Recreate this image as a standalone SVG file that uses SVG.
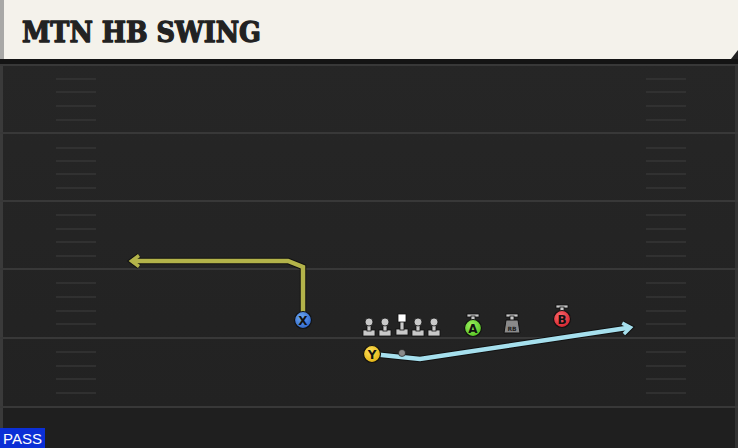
<svg xmlns="http://www.w3.org/2000/svg" width="738" height="448" viewBox="0 0 738 448">
<defs>
<style>
.yard{stroke:#383838;stroke-width:2}
.hash{stroke:#363636;stroke-width:1.6}
.lbl{font-family:"DejaVu Sans","Liberation Sans",sans-serif;font-weight:bold;text-anchor:middle}
.ol{fill:#c9c9c9;stroke:#111;stroke-width:0.8}
</style>
<linearGradient id="fieldg" x1="0" y1="0" x2="0" y2="1">
<stop offset="0" stop-color="#262626"/>
<stop offset="1" stop-color="#222"/>
</linearGradient>
<radialGradient id="gx" cx="0.4" cy="0.35" r="0.7"><stop offset="0" stop-color="#6fa8f0"/><stop offset="1" stop-color="#2a62c8"/></radialGradient>
<radialGradient id="gy" cx="0.4" cy="0.35" r="0.7"><stop offset="0" stop-color="#ffe05a"/><stop offset="1" stop-color="#e0b010"/></radialGradient>
<radialGradient id="ga" cx="0.4" cy="0.35" r="0.7"><stop offset="0" stop-color="#9cf060"/><stop offset="1" stop-color="#52c020"/></radialGradient>
<radialGradient id="gb" cx="0.4" cy="0.35" r="0.7"><stop offset="0" stop-color="#ff6a70"/><stop offset="1" stop-color="#d0202a"/></radialGradient>
<marker id="arrYo" viewBox="0 0 16 16" refX="10" refY="8" markerWidth="16" markerHeight="16" orient="auto" markerUnits="userSpaceOnUse">
<path d="M3,2.5 L10.5,8 L3,13.5" fill="none" stroke="#111" stroke-width="5.5" stroke-linejoin="miter"/>
</marker>
<marker id="arrY" viewBox="0 0 16 16" refX="10" refY="8" markerWidth="16" markerHeight="16" orient="auto" markerUnits="userSpaceOnUse">
<path d="M3,2.5 L10.5,8 L3,13.5" fill="none" stroke="#b3b34a" stroke-width="3.5" stroke-linejoin="miter"/>
</marker>
<marker id="arrCo" viewBox="0 0 16 16" refX="10" refY="8" markerWidth="16" markerHeight="16" orient="auto" markerUnits="userSpaceOnUse">
<path d="M3,2.5 L10.5,8 L3,13.5" fill="none" stroke="#111" stroke-width="5.5" stroke-linejoin="miter"/>
</marker>
<marker id="arrC" viewBox="0 0 16 16" refX="10" refY="8" markerWidth="16" markerHeight="16" orient="auto" markerUnits="userSpaceOnUse">
<path d="M3,2.5 L10.5,8 L3,13.5" fill="none" stroke="#a6e0ee" stroke-width="3.5" stroke-linejoin="miter"/>
</marker>
</defs>

<rect x="0" y="0" width="738" height="448" fill="#222"/>
<rect x="0" y="60" width="738" height="350" fill="url(#fieldg)"/>
<rect x="0" y="408" width="738" height="40" fill="#1f1f1f"/>
<rect x="0" y="60" width="3" height="388" fill="#3a3a3a"/>
<rect x="735" y="60" width="3" height="388" fill="#333"/>

<!-- header -->
<g id="header">
<polygon points="0,0 738,0 738,50 731,59 0,59" fill="#f4f2eb"/>
<rect x="0" y="0" width="4" height="59" fill="#a8a8a6"/>
<rect x="0" y="59" width="738" height="5" fill="#141414"/>
<text x="22" y="42" font-family="'DejaVu Serif','Liberation Serif',serif" font-weight="900" font-size="27" textLength="239" lengthAdjust="spacingAndGlyphs" fill="#222" stroke="#222" stroke-width="1.3" stroke-linejoin="round">MTN HB SWING</text>
</g>

<!-- field lines -->
<g id="field">
<line class="yard" x1="0" y1="65" x2="738" y2="65"/>
<line class="yard" x1="0" y1="133" x2="738" y2="133"/>
<line class="yard" x1="0" y1="201" x2="738" y2="201"/>
<line class="yard" x1="0" y1="269" x2="738" y2="269"/>
<line class="yard" x1="0" y1="338" x2="738" y2="338"/>
<line class="yard" x1="0" y1="407" x2="738" y2="407"/>
<g id="hashL">
<line class="hash" x1="56" y1="79" x2="96" y2="79"/><line class="hash" x1="56" y1="92" x2="96" y2="92"/><line class="hash" x1="56" y1="106" x2="96" y2="106"/><line class="hash" x1="56" y1="120" x2="96" y2="120"/>
<line class="hash" x1="56" y1="148" x2="96" y2="148"/><line class="hash" x1="56" y1="161" x2="96" y2="161"/><line class="hash" x1="56" y1="174" x2="96" y2="174"/><line class="hash" x1="56" y1="188" x2="96" y2="188"/>
<line class="hash" x1="56" y1="215" x2="96" y2="215"/><line class="hash" x1="56" y1="229" x2="96" y2="229"/><line class="hash" x1="56" y1="242" x2="96" y2="242"/><line class="hash" x1="56" y1="256" x2="96" y2="256"/>
<line class="hash" x1="56" y1="283" x2="96" y2="283"/><line class="hash" x1="56" y1="297" x2="96" y2="297"/><line class="hash" x1="56" y1="311" x2="96" y2="311"/><line class="hash" x1="56" y1="324" x2="96" y2="324"/>
<line class="hash" x1="56" y1="352" x2="96" y2="352"/><line class="hash" x1="56" y1="366" x2="96" y2="366"/><line class="hash" x1="56" y1="379" x2="96" y2="379"/><line class="hash" x1="56" y1="393" x2="96" y2="393"/>
</g>
<g id="hashR">
<line class="hash" x1="646" y1="79" x2="686" y2="79"/><line class="hash" x1="646" y1="92" x2="686" y2="92"/><line class="hash" x1="646" y1="106" x2="686" y2="106"/><line class="hash" x1="646" y1="120" x2="686" y2="120"/>
<line class="hash" x1="646" y1="148" x2="686" y2="148"/><line class="hash" x1="646" y1="161" x2="686" y2="161"/><line class="hash" x1="646" y1="174" x2="686" y2="174"/><line class="hash" x1="646" y1="188" x2="686" y2="188"/>
<line class="hash" x1="646" y1="215" x2="686" y2="215"/><line class="hash" x1="646" y1="229" x2="686" y2="229"/><line class="hash" x1="646" y1="242" x2="686" y2="242"/><line class="hash" x1="646" y1="256" x2="686" y2="256"/>
<line class="hash" x1="646" y1="283" x2="686" y2="283"/><line class="hash" x1="646" y1="297" x2="686" y2="297"/><line class="hash" x1="646" y1="311" x2="686" y2="311"/><line class="hash" x1="646" y1="324" x2="686" y2="324"/>
<line class="hash" x1="646" y1="352" x2="686" y2="352"/><line class="hash" x1="646" y1="366" x2="686" y2="366"/><line class="hash" x1="646" y1="379" x2="686" y2="379"/><line class="hash" x1="646" y1="393" x2="686" y2="393"/>
</g>
</g>

<!-- connectors -->
<g id="routes" fill="none" stroke-linejoin="miter">
<path d="M303,320 L303,267 L288,261 L132,261" stroke="#111" stroke-width="6.5" marker-end="url(#arrYo)"/>
<path d="M303,320 L303,267 L288,261 L132,261" stroke="#b3b34a" stroke-width="4.5" marker-end="url(#arrY)"/>
<path d="M372,354 L420,359 L630,327.5" stroke="#111" stroke-width="6.5" marker-end="url(#arrCo)"/>
<path d="M372,354 L420,359 L630,327.5" stroke="#a6e0ee" stroke-width="4.5" marker-end="url(#arrC)"/>
</g>

<!-- players -->
<g id="X">
<circle cx="303" cy="320" r="8.5" fill="url(#gx)" stroke="#111" stroke-width="1.2"/>
<text class="lbl" x="303" y="324.5" font-size="12" fill="#111">X</text>
</g>
<g id="LT"><rect class="ol" x="363" y="330" width="12" height="6"/><rect class="ol" x="367" y="323" width="4" height="8"/><circle class="ol" cx="369" cy="322" r="4"/></g>
<g id="LG"><rect class="ol" x="379" y="330" width="12" height="6"/><rect class="ol" x="383" y="323" width="4" height="8"/><circle class="ol" cx="385" cy="322" r="4"/></g>
<g id="C"><rect class="ol" x="396" y="329" width="12" height="6"/><rect class="ol" x="400" y="321" width="4" height="9"/><rect x="398" y="314" width="8" height="8" fill="#fff" stroke="#111" stroke-width="0.8"/></g>
<g id="RG"><rect class="ol" x="412" y="330" width="12" height="6"/><rect class="ol" x="416" y="323" width="4" height="8"/><circle class="ol" cx="418" cy="322" r="4"/></g>
<g id="RT"><rect class="ol" x="428" y="330" width="12" height="6"/><rect class="ol" x="432" y="323" width="4" height="8"/><circle class="ol" cx="434" cy="322" r="4"/></g>
<g id="QB"><circle cx="402" cy="353" r="3.5" fill="#8a8a8a" stroke="#111" stroke-width="0.6"/></g>
<g id="Y">
<circle cx="372" cy="354" r="8.5" fill="url(#gy)" stroke="#111" stroke-width="1.2"/>
<text class="lbl" x="372" y="358.5" font-size="12" fill="#111">Y</text>
</g>
<g id="A">
<rect class="ol" x="467" y="314" width="12" height="3"/><rect class="ol" x="471" y="316" width="4" height="5"/>
<circle cx="473" cy="328" r="8.5" fill="url(#ga)" stroke="#111" stroke-width="1.2"/>
<text class="lbl" x="473" y="332.5" font-size="12" fill="#111">A</text>
</g>
<g id="RB">
<rect class="ol" x="506" y="314" width="12" height="3"/><rect class="ol" x="510" y="316" width="4" height="5"/>
<path d="M506,320 L518,320 L520,333 L504,333 Z" fill="#8a8a8a" stroke="#111" stroke-width="1"/>
<text class="lbl" x="512" y="331" font-size="6" fill="#222">RB</text>
</g>
<g id="B">
<rect class="ol" x="556" y="305" width="12" height="3"/><rect class="ol" x="560" y="307" width="4" height="5"/>
<circle cx="562" cy="319" r="8.5" fill="url(#gb)" stroke="#111" stroke-width="1.2"/>
<text class="lbl" x="562" y="323.5" font-size="12" fill="#111">B</text>
</g>

<g id="pass">
<rect x="0" y="428" width="45" height="20" fill="#0b2fd6"/>
<text x="3" y="444" font-family="'Liberation Sans',Arial,sans-serif" font-size="15.5" textLength="39" lengthAdjust="spacingAndGlyphs" fill="#fff">PASS</text>
</g>
</svg>
